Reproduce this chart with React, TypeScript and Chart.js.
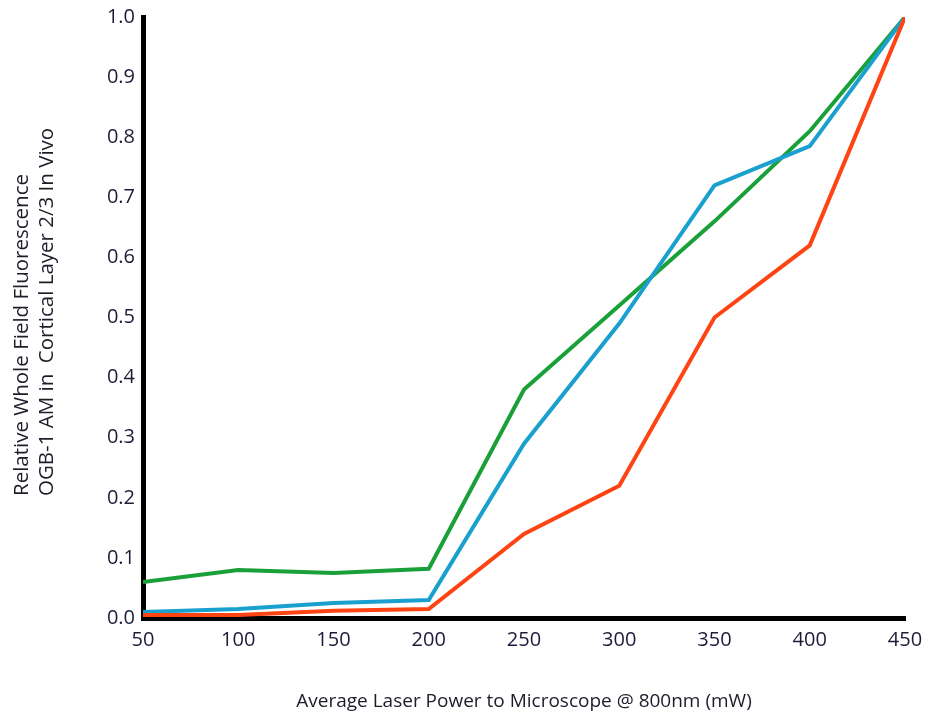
import React, { useEffect, useRef } from "react";
import { Chart, registerables } from "chart.js";

Chart.register(...registerables);

const powers = [50, 100, 150, 200, 250, 300, 350, 400, 450];
const greenSeries = [0.06, 0.08, 0.075, 0.082, 0.38, 0.52, 0.66, 0.81, 1.0];
const blueSeries = [0.01, 0.015, 0.025, 0.03, 0.29, 0.49, 0.72, 0.785, 1.0];
const redSeries = [0.005, 0.005, 0.012, 0.015, 0.14, 0.22, 0.5, 0.62, 1.0];
const xTicks = [50, 100, 150, 200, 250, 300, 350, 400, 450];
const yTicks = [0, 0.1, 0.2, 0.3, 0.4, 0.5, 0.6, 0.7, 0.8, 0.9, 1.0];

const xTitle = "Average Laser Power to Microscope @ 800nm (mW)";
const yTitle = ["Relative Whole Field Fluorescence", "OGB-1 AM in  Cortical Layer 2/3 In Vivo"];

const FONT = "'Open Sans', 'Noto Sans', sans-serif";

const yTitlePlugin = {
  id: "yTitleStart",
  afterDraw(chart: any) {
    const ctx = chart.ctx as CanvasRenderingContext2D;
    const startY = chart.chartArea.bottom - 122;
    const xs = [22.5, 47];
    ctx.save();
    ctx.fillStyle = "#1c1c2a";
    ctx.font = `20.5px ${FONT}`;
    ctx.textAlign = "left";
    ctx.textBaseline = "middle";
    yTitle.forEach((line, i) => {
      ctx.save();
      ctx.translate(xs[i], startY);
      ctx.rotate(-Math.PI / 2);
      ctx.fillText(line, 0, 0);
      ctx.restore();
    });
    ctx.restore();
  },
};

export default function App() {
  const ref = useRef<HTMLCanvasElement | null>(null);
  useEffect(() => {
    document.body.style.margin = "0";
    const toPts = (ys: number[]) => powers.map((x, i) => ({ x, y: ys[i] }));
    const chart = new Chart(ref.current!, {
      type: "line",
      data: {
        datasets: [
          { data: toPts(redSeries), borderColor: "rgb(255,68,20)", borderWidth: 4, pointRadius: 0, tension: 0 },
          { data: toPts(blueSeries), borderColor: "rgb(26,160,206)", borderWidth: 4, pointRadius: 0, tension: 0 },
          { data: toPts(greenSeries), borderColor: "rgb(26,160,56)", borderWidth: 4, pointRadius: 0, tension: 0 },
        ],
      },
      options: {
        animation: false,
        responsive: false,
        layout: { padding: { left: 0, right: 35, top: 17, bottom: 0 } },
        plugins: { legend: { display: false }, tooltip: { enabled: false } },
        scales: {
          x: {
            type: "linear",
            min: 50,
            max: 450,
            afterFit: (s: any) => { s.height = 99; },
            afterBuildTicks: (s: any) => { s.ticks = xTicks.map((v) => ({ value: v })); },
            grid: { display: false },
            border: { display: true, color: "#000", width: 5 },
            ticks: { color: "#1c1c3a", font: { family: FONT, size: 20 }, padding: 2, maxRotation: 0, autoSkip: false },
            title: { display: true, text: xTitle, color: "#1c1c2a", font: { family: FONT, size: 19, lineHeight: 1.25 }, padding: { top: 0, bottom: 4 } },
          },
          y: {
            type: "linear",
            min: 0,
            max: 1,
            afterFit: (s: any) => { s.width = 143; },
            afterBuildTicks: (s: any) => { s.ticks = yTicks.map((v) => ({ value: v })); },
            grid: { display: false },
            border: { display: true, color: "#000", width: 5 },
            ticks: { color: "#1c1c3a", font: { family: FONT, size: 20 }, padding: 0, callback: (v: any) => Number(v).toFixed(1) },
            title: { display: false },
          },
        },
      },
      plugins: [yTitlePlugin],
    });
    return () => chart.destroy();
  }, []);
  return <canvas ref={ref} width={940} height={717} style={{ display: "block" }} />;
}
